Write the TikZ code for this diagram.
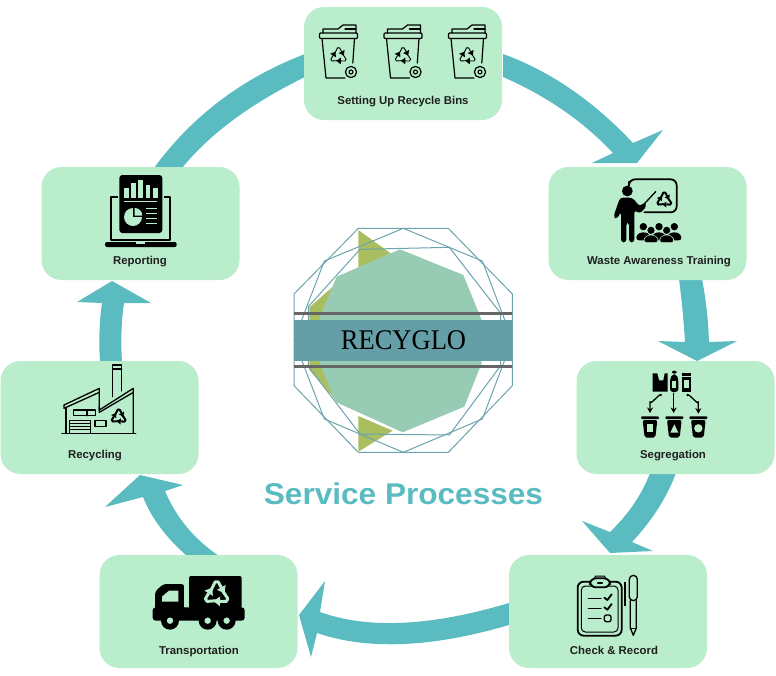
\documentclass[tikz,border=0pt]{standalone}
\usepackage{fontspec}
\usetikzlibrary{arrows.meta}
\setmainfont{Liberation Sans}
\newfontfamily\logofont{Liberation Serif}
\definecolor{boxc}{HTML}{B9EDCB}
\definecolor{arrc}{HTML}{5ABBC1}
\definecolor{bandc}{HTML}{649FA8}
\definecolor{polyc}{HTML}{98CBB3}
\definecolor{olivec}{HTML}{A9BE5E}
\definecolor{linec}{HTML}{6BA3AE}
\definecolor{darkl}{HTML}{666666}
\tikzset{
  stepbox/.style={fill=boxc,rounded corners=20pt,minimum width=198pt,minimum height=113pt,inner sep=0,outer sep=0},
  steplabel/.style={font=\bfseries\fontsize{11.4}{13}\selectfont,text=black!88,inner sep=0,anchor=base},
  flow/.style={fill=arrc,draw=none},
  zc/.style={x=0.33333pt,y=-0.33333pt},
  ink/.style={draw=black,line width=1.3pt,line join=round,line cap=round},
  thick ink/.style={draw=black,line width=1.8pt,line join=round,line cap=round},
  octo/.style={draw=linec,line width=1pt,line join=round}
}
% three chasing arrows: x, y, radius in pt, line width, colour
\newcommand\recyc[5]{%
  \begin{scope}[shift={(#1,#2)},x=#3pt,y=#3pt]
    \foreach \a in {0,120,240}{
      \begin{scope}[rotate=\a]
        \draw[#5,line width=#4,line join=round] (-.42,.12) -- (-.1,.78) -- (.1,.78) -- (.3,.42);
        \fill[#5] (.5,.05) -- (.58,.58) -- (.02,.27) -- cycle;
      \end{scope}
    }
  \end{scope}}
\newcommand\wastebin[1]{%
  \begin{scope}[shift={(#1,0)}]
    \draw[ink,line width=1.2pt,fill=boxc,rounded corners=1pt] (319.5,33) rectangle (357.5,38.5);
    \draw[ink,line width=1.2pt] (323,33) -- (323,29) -- (338,29) -- (343,25) -- (356,25) -- (356,33);
    \draw[ink,line width=1.2pt] (345,29) -- (356,29);
    \draw[ink,line width=1.2pt] (322,38.5) -- (326,78) -- (345,78);
    \draw[ink,line width=1.2pt] (354.5,38.5) -- (352.8,63);
    \draw[ink,line width=1.2pt,fill=boxc] (351,72) circle (5.6pt);
    \draw[ink,line width=1.1pt] (351,72) circle (2pt);
    \recyc{338.5}{56}{10.5}{.9pt}{black}
  \end{scope}}
\begin{document}
\begin{tikzpicture}[x=1pt,y=-1pt]
\useasboundingbox (0,0) rectangle (776,675);
% ---------- flow arrows
\fill[flow] (503,54) .. controls (553,72) and (596,103.7) .. (633,143) -- (663,130) -- (637,163) -- (592,163) -- (613,153) .. controls (583,121) and (546,95.7) .. (503,77) -- cycle;
\fill[flow] (679,279) .. controls (681.7,299.7) and (683.7,321) .. (685,342) -- (658,341) -- (697,361) -- (737,341) -- (709,342) .. controls (708.3,321) and (706,299.7) .. (702,279) -- cycle;
\fill[flow] (650,473) .. controls (642,494.3) and (628.7,514) .. (610,532) -- (582,521) -- (610,553) -- (653,551) -- (632,542) .. controls (652,520.7) and (666.7,497.7) .. (676,473) -- cycle;
\fill[flow] (509,603) .. controls (431,626.3) and (368,629.3) .. (320,612) -- (325,581) -- (299,615) -- (311,657) -- (317,633) .. controls (367.7,650.3) and (431.7,647.7) .. (509,625) -- cycle;
\fill[flow] (187,556) .. controls (165.7,537.3) and (151,517.3) .. (143,497) -- (105,507) -- (140,475) -- (183,485) -- (165,491) .. controls (176.3,517.7) and (194.3,539.3) .. (219,556) -- cycle;
\fill[flow] (100,362) .. controls (98.7,340.7) and (99.3,321) .. (102,303) -- (77,302) -- (112,281) -- (151,303) -- (124,303) .. controls (121.3,321) and (120.7,340.7) .. (122,362) -- cycle;
\fill[flow] (154,168) .. controls (192,116) and (242.3,78) .. (305,54) -- (305,77) .. controls (251.7,103) and (210.3,133.3) .. (182,168) -- cycle;
% ---------- boxes
\node[stepbox] (setup) at (403,63.5) {};
\node[stepbox] (train) at (647.5,223.5) {};
\node[stepbox] (segr) at (675.5,417.5) {};
\node[stepbox] (check) at (608,611.5) {};
\node[stepbox] (trans) at (198.5,611.5) {};
\node[stepbox] (recy) at (99.5,417.5) {};
\node[stepbox] (repo) at (140.5,223.5) {};
% ---------- labels
\node[steplabel] (lsetup) at (403,104) {Setting Up Recycle Bins};
\node[steplabel] (ltrain) at (659,264) {Waste Awareness Training};
\node[steplabel] (lsegr) at (673,458) {Segregation};
\node[steplabel] (lcheck) at (614,654) {Check \& Record};
\node[steplabel] (ltrans) at (199,654) {Transportation};
\node[steplabel] (lrecy) at (95,458) {Recycling};
\node[steplabel] (lrepo) at (140,264) {Reporting};
\node[font=\bfseries\fontsize{30}{32}\selectfont,text=arrc,inner sep=0,xscale=1.053] (title) at (403.5,494) {Service Processes};
% ---------- bins
\wastebin{0}\wastebin{64.5}\wastebin{129}
% ---------- training icon
\begin{scope}[shift={(545,165)},zc]
  \draw[thick ink] (252,62) -- (252,50) [rounded corners=6pt] -- (252,43) -- (395,43) -- (395,142) -- (298,142);
  \draw[ink] (290,125) -- (332,80);
  \recyc{358}{105}{9.5}{2pt}{black}
  \fill[black] (247,78) circle (5.4pt);
  \fill[black,rounded corners=3pt] (225,98) -- (262,98) -- (285,125) -- (296,112) -- (306,122) -- (285,146) -- (268,135) -- (268,232) -- (252,232) -- (252,172) -- (244,172) -- (244,232) -- (228,232) -- (228,140) -- (216,162) -- (205,156) -- cycle;
  \foreach \c in {295,342,388}{
    \fill[black] (\c,185) circle (3.7pt);
    \fill[black,rounded corners=3pt] (\c-22,226) -- (\c-20,208) -- (\c,200) -- (\c+20,208) -- (\c+22,226) -- cycle;
  }
  \foreach \c in {318,365}{
    \fill[black] (\c,196) circle (3.6pt);
    \draw[fill=black,draw=boxc,line width=.5pt,rounded corners=3pt] (\c-22,233) -- (\c-20,216) -- (\c,208) -- (\c+20,216) -- (\c+22,233) -- cycle;
  }
\end{scope}
% ---------- segregation icon
\begin{scope}[shift={(575,355)},zc]
  \fill[black] (233,55) -- (247,55) -- (252,76) -- (265,76) -- (269,55) -- (278,55) -- (278,110) -- (233,110) -- cycle;
  \fill[black,rounded corners=2pt] (291,47) rectangle (305,56);
  \fill[black,rounded corners=3pt] (285,72) -- (292,58) -- (304,58) -- (310,72) -- (310,111) -- (285,111) -- cycle;
  \fill[boxc] (290,78) rectangle (304,100);
  \fill[black] (321,55) rectangle (347,62);
  \fill[black] (321,66) rectangle (347,111);
  \fill[boxc] (326,76) rectangle (342,100);
  \draw[ink,line width=1.3pt,-{Stealth[length=5.5pt,width=6pt]}] (258,118) -- (258,122) to[out=90,in=-90] (225,140) -- (225,174);
  \draw[ink,line width=1.3pt,-{Stealth[length=5.5pt,width=6pt]}] (296,115) -- (296,174);
  \draw[ink,line width=1.3pt,-{Stealth[length=5.5pt,width=6pt]}] (337,118) -- (337,122) to[out=90,in=-90] (370,140) -- (370,176);
  \foreach \c in {225,298,370}{
    \fill[black,rounded corners=1pt] (\c-27,184) rectangle (\c+27,192);
    \fill[black,rounded corners=2pt] (\c-22,195) -- (\c+22,195) -- (\c+16,248) -- (\c-16,248) -- cycle;
  }
  \fill[boxc] (215,208) rectangle (235,232);
  \fill[boxc] (298,208) -- (310,233) -- (286,233) -- cycle;
  \fill[boxc] (370,220) circle (4.2pt);
\end{scope}
% ---------- check icon
\begin{scope}[shift={(505,550)},zc]
  \draw[thick ink,rounded corners=6pt] (218,95) rectangle (350,257);
  \draw[ink,line width=1pt,rounded corners=4pt] (229,108) rectangle (339,246);
  \draw[thick ink,fill=boxc,rounded corners=6pt] (255,85) rectangle (315,112);
  \draw[ink,line width=1pt] (268,85) -- (272,78) -- (298,78) -- (302,85);
  \draw[ink] (278,99) -- (292,99);
  \draw[ink] (250,145) -- (288,145);
  \draw[thick ink] (298,143) -- (307,150) -- (320,133);
  \draw[ink] (250,175) -- (288,175);
  \draw[thick ink] (298,172) -- (307,179) -- (320,162);
  \draw[ink] (250,205) -- (288,205);
  \draw[ink,rounded corners=2pt] (298,195) rectangle (318,215);
  \draw[ink,rounded corners=4pt] (373,152) -- (373,76) -- (397,76) -- (397,152) -- cycle;
  \draw[ink] (376,152) -- (376,234) -- (385,256) -- (394,234) -- (394,152);
  \draw[ink,line width=1pt] (376,234) -- (394,234);
  \draw[ink,line width=1.1pt] (360,97) -- (360,167);
\end{scope}
% ---------- truck icon
\begin{scope}[shift={(95,550)},zc]
  \fill[black,rounded corners=2pt] (282,78) rectangle (440,175);
  \fill[black,rounded corners=3pt] (173,172) rectangle (449,212);
  \fill[black,rounded corners=3pt] (180,180) -- (180,125) -- (205,102) -- (268,102) -- (268,186) -- cycle;
  \fill[boxc] (201,140) -- (222,122) -- (250,122) -- (250,155) -- (201,155) -- cycle;
  \draw[boxc,line width=.9pt] (268,102) -- (268,172);
  \foreach \c in {225,338,395}{
    \fill[black] (\c,212) circle (9pt);
    \fill[boxc] (\c,212) circle (3.2pt);
  }
  \recyc{365}{132}{15.5}{3pt}{boxc}
\end{scope}
% ---------- factory icon
\begin{scope}[shift={(0,355)},zc]
  \draw[ink,line width=1.4pt] (186,235) -- (407,235);
  \draw[ink] (198,235) -- (198,160);
  \draw[ink] (192,150) -- (298,100) -- (298,165) -- (400,100) -- (400,235);
  \draw[ink] (192,150) -- (192,160) -- (298,112);
  \draw[ink] (298,155) -- (298,172) -- (400,112);
  \draw[ink] (338,125) -- (338,30) -- (365,30) -- (365,108);
  \draw[ink] (338,42) -- (365,42);
  \draw[ink] (221,165) rectangle (287,182);
  \draw[ink] (261,165) -- (261,182);
  \draw[ink] (208,196) rectangle (272,235);
  \foreach \yy in {205,214,223}{\draw[ink,line width=.8pt] (208,\yy) -- (272,\yy);}
  \draw[ink] (285,196) rectangle (318,215);
  \recyc{356}{186}{9.5}{2pt}{black}
\end{scope}
% ---------- reporting icon
\begin{scope}[shift={(40,165)},zc]
  \draw[black,line width=1.8pt,line join=round] (234,97) -- (212,97) -- (212,225) -- (390,225) -- (390,97) -- (371,97);
  \fill[black,rounded corners=2pt] (195,231) rectangle (410,246);
  \fill[boxc] (288,231) rectangle (316,237);
  \fill[black,rounded corners=3pt] (238,30) rectangle (367,204);
  \foreach \xa/\ya in {252/70,273/55,295/45,317/60,339/70}{
    \fill[boxc] (\xa,\ya) rectangle (\xa+14,98);
  }
  \draw[boxc,line width=.9pt] (252,108) -- (352,108);
  \fill[boxc] (279,156) circle (9pt);
  \fill[black] (279,156) -- (279,122) -- (315,122) -- (315,156) -- cycle;
  \fill[boxc] (284,129) -- (284,152) -- (307,152) arc[start angle=0,end angle=90,radius=7.7pt] -- cycle;
  \foreach \yy in {130,146,161,176}{\draw[boxc,line width=1.1pt] (318,\yy) -- (350,\yy);}
\end{scope}
% ---------- logo
\begin{scope}[shift={(280,220)},zc]
  \fill[olivec] (235,30) -- (332,100) -- (235,145) -- cycle;
  \fill[olivec] (170,190) -- (88,262) -- (88,450) -- (172,545) -- cycle;
  \fill[olivec] (235,588) -- (338,632) -- (235,695) -- cycle;
  \draw[octo] (235,25) -- (505,25) -- (697,222) -- (697,497) -- (505,697) -- (235,697) -- (42,497) -- (42,222) -- cycle;
  \draw[octo] (370,25) -- (607,123) -- (697,360) -- (607,597) -- (370,697) -- (133,597) -- (42,360) -- (133,123) -- cycle;
  \draw[octo] (240,88) -- (508,82) -- (662,280) -- (662,437) -- (508,645) -- (240,642) -- (85,440) -- (85,260) -- cycle;
  \fill[polyc] (360,88) -- (550,165) -- (605,300) -- (605,430) -- (553,560) -- (368,637) -- (165,545) -- (120,430) -- (120,290) -- (170,170) -- cycle;
  \draw[darkl,line width=3pt] (42,280) -- (697,280);
  \draw[darkl,line width=3pt] (42,440) -- (697,440);
  \fill[bandc] (42,300) rectangle (697,422);
\end{scope}
\node[font=\logofont\fontsize{28.5}{30}\selectfont,text=black,inner sep=0,xscale=.93] (brand) at (403.5,340) {RECYGLO};
\end{tikzpicture}
\end{document}
